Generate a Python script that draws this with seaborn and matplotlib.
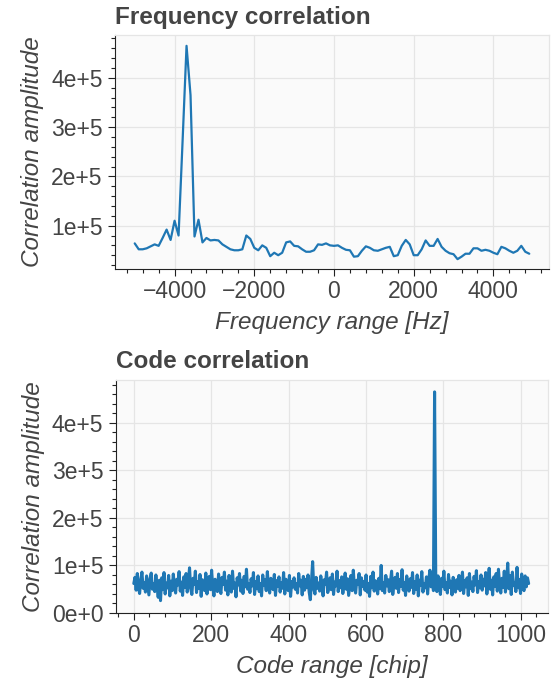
"""
Acquisition correlation plots: frequency sweep and code phase sweep.
"""

import numpy as np
import pandas as pd
import matplotlib
matplotlib.use("Agg")
import matplotlib.pyplot as plt
from matplotlib.ticker import MultipleLocator, FuncFormatter
import seaborn as sns

# frequency bins, -5000 .. 4900 Hz in 100 Hz steps
freq_hz = np.arange(-5000, 5000, 100)
# correlation amplitude per frequency bin (thousands)
freq_corr_k = [
    64, 52, 52, 54, 58, 62, 59, 75, 92, 71,
    110, 80, 270, 465, 365, 78, 112, 66, 75, 70,
    71, 70, 62, 57, 52, 50, 50, 52, 80, 73,
    55, 50, 60, 55, 38, 45, 40, 45, 66, 68,
    59, 58, 52, 47, 47, 50, 62, 61, 64, 60,
    59, 60, 55, 51, 50, 37, 38, 49, 58, 55,
    50, 49, 52, 55, 57, 38, 40, 59, 71, 62,
    40, 40, 52, 70, 59, 59, 73, 57, 49, 44,
    42, 32, 37, 43, 43, 54, 54, 49, 51, 49,
    45, 42, 57, 54, 49, 45, 49, 59, 47, 43,
]

# code phase, 0 .. 1020 chips, every 3rd chip
code_chip = np.arange(0, 1023, 3)
# correlation amplitude per code phase (thousands)
code_corr_k = [
    62, 75, 48, 83, 55, 41, 70, 86, 52, 64, 44, 78, 58, 38, 72, 84, 50, 61, 45, 80,
    57, 33, 69, 26, 74, 49, 85, 40, 63, 53, 79, 36, 67, 47, 82, 56, 42, 71, 59, 87,
    46, 65, 37, 76, 54, 83, 44, 68, 95, 51, 39, 73, 60, 88, 43, 66, 52, 81, 35, 70,
    58, 47, 84, 40, 62, 77, 49, 90, 55, 36, 71, 64, 45, 82, 53, 41, 75, 60, 86, 48,
    67, 38, 79, 56, 44, 88, 52, 63, 34, 74, 59, 83, 46, 69, 41, 77, 55, 92, 50, 61,
    43, 72, 57, 85, 39, 66, 51, 78, 45, 62, 36, 80, 58, 70, 47, 87, 54, 42, 73, 60,
    49, 81, 37, 68, 56, 76, 44, 64, 52, 85, 40, 71, 59, 47, 79, 35, 66, 55, 74, 50,
    62, 42, 83, 57, 69, 38, 77, 48, 71, 53, 80, 44, 28, 67, 108, 50, 40, 75, 52, 63,
    46, 78, 58, 36, 70, 61, 86, 43, 55, 74, 49, 82, 39, 65, 57, 88, 45, 68, 53, 76,
    41, 63, 84, 50, 72, 37, 59, 79, 47, 90, 54, 42, 69, 61, 83, 38, 74, 56, 66, 48,
    80, 44, 62, 35, 77, 53, 86, 46, 68, 58, 40, 73, 51, 100, 47, 64, 42, 79, 57, 70,
    45, 67, 88, 39, 61, 75, 52, 83, 43, 70, 56, 91, 48, 64, 37, 78, 59, 46, 72, 54,
    85, 41, 66, 50, 80, 36, 69, 58, 87, 44, 62, 53, 76, 40, 71, 90, 55, 84, 47, 465,
    82, 45, 78, 60, 39, 73, 56, 88, 49, 64, 42, 81, 54, 67, 38, 75, 58, 44, 70, 52,
    79, 47, 63, 86, 41, 68, 55, 74, 37, 83, 51, 65, 45, 77, 59, 89, 43, 66, 53, 80,
    48, 71, 57, 85, 40, 62, 94, 50, 69, 38, 76, 56, 83, 46, 92, 60, 42, 73, 54, 88,
    44, 67, 105, 51, 79, 39, 86, 58, 63, 45, 96, 53, 70, 41, 82, 57, 47, 78, 55, 74,
    62,
]

LINE = "#1f77b4"
TEXT = "#444444"
GRID = "#e5e5e5"


def sci_fmt(v, _pos):
    return f"{v:.0e}".replace("e+0", "e+")


def style_axes(ax, title, xlabel, ylabel, title_pad):
    ax.set_facecolor("#fafafa")
    ax.grid(True, which="major", color=GRID, linewidth=0.9)
    ax.set_axisbelow(True)
    for side in ("top", "right"):
        ax.spines[side].set_visible(True)
        ax.spines[side].set_color(GRID)
        ax.spines[side].set_linewidth(0.9)
    for side in ("left", "bottom"):
        ax.spines[side].set_color("#222222")
        ax.spines[side].set_linewidth(0.8)
    ax.tick_params(which="major", direction="out", length=5, width=0.8,
                   color="#222222", labelsize=16.5, labelcolor=TEXT)
    ax.tick_params(axis="x", which="major", pad=3)
    ax.tick_params(axis="y", which="major", pad=4)
    ax.tick_params(which="minor", direction="out", length=3, width=0.8,
                   color="#222222")
    ax.yaxis.set_major_locator(MultipleLocator(1e5))
    ax.yaxis.set_minor_locator(MultipleLocator(2e4))
    ax.yaxis.set_major_formatter(FuncFormatter(sci_fmt))
    ax.set_title(title, loc="left", fontsize=17.5, fontweight="bold",
                 color=TEXT, pad=title_pad)
    ax.set_xlabel(xlabel, fontsize=17.5, style="italic", color=TEXT, labelpad=6)
    ax.set_ylabel(ylabel, fontsize=17.5, style="italic", color=TEXT, labelpad=5)


sns.set_theme(style="ticks")
plt.rcParams["font.family"] = ["Liberation Sans", "DejaVu Sans"]

freq_df = pd.DataFrame({"freq": freq_hz, "corr": np.array(freq_corr_k) * 1e3})
code_df = pd.DataFrame({"chip": code_chip, "corr": np.array(code_corr_k) * 1e3})

fig = plt.figure(figsize=(5.57, 6.83), dpi=100)
ax1 = fig.add_axes([115 / 557, 1 - 269 / 683, 434 / 557, 234 / 683])
ax2 = fig.add_axes([116 / 557, 1 - 613 / 683, 432 / 557, 233 / 683])

sns.lineplot(data=freq_df, x="freq", y="corr", ax=ax1, color=LINE,
             linewidth=1.6, errorbar=None)
ax1.set_xlim(-5495, 5395)
ax1.set_ylim(12e3, 487e3)
ax1.xaxis.set_major_locator(MultipleLocator(2000))
ax1.xaxis.set_minor_locator(MultipleLocator(400))
style_axes(ax1, "Frequency correlation", "Frequency range [Hz]",
           "Correlation amplitude", 8)

sns.lineplot(data=code_df, x="chip", y="corr", ax=ax2, color=LINE,
             linewidth=2.2, errorbar=None)
ax2.set_xlim(-46, 1070)
ax2.set_ylim(0, 490e3)
ax2.xaxis.set_major_locator(MultipleLocator(200))
ax2.xaxis.set_minor_locator(MultipleLocator(40))
style_axes(ax2, "Code correlation", "Code range [chip]",
           "Correlation amplitude", 8.5)

fig.savefig("out.png", dpi=100)
